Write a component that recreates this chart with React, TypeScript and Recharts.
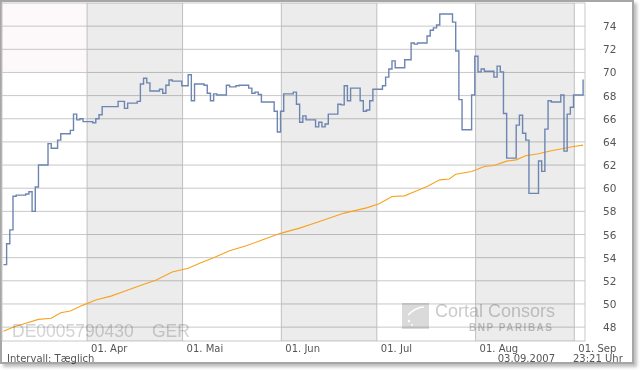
import React from "react";
import {
  LineChart,
  Line,
  XAxis,
  YAxis,
  CartesianGrid,
  ReferenceArea,
} from "recharts";

// day numbers count from 01.03.2007 = 0; closing prices are stamped at 18:00
const CLOSE = 0.75;

const priceDays = [
  4, 5, 6, 7, 8, 11, 12, 13, 14, 15, 18, 19, 21, 22, 25, 26, 27, 28, 29, 32,
  33, 34, 35, 40, 42, 43, 46, 47, 48, 49, 50, 53, 54, 55, 56, 57, 60, 62, 63,
  64, 67, 68, 69, 70, 71, 74, 75, 77, 78, 81, 82, 83, 84, 85, 89, 90, 91, 92,
  95, 96, 97, 98, 99, 102, 103, 104, 105, 106, 109, 110, 111, 112, 113, 116,
  117, 118, 119, 120, 123, 124, 125, 126, 127, 130, 132, 133, 134, 137, 138,
  139, 140, 141, 145, 146, 147, 148, 151, 152, 153, 154, 155, 158, 159, 160,
  161, 162, 165, 166, 167, 168, 169, 172, 173, 174, 175, 176, 179, 180, 181,
  182, 183, 186,
];

const prices = [
  53.4, 55.2, 56.4, 59.3, 59.4, 59.5, 59.7, 58.0, 60.1, 62.0, 63.85, 63.45,
  64.15, 64.7, 65.0, 66.4, 65.9, 66.0, 65.75, 65.65, 66.0, 66.35, 67.05, 67.5,
  66.9, 67.35, 67.5, 69.0, 69.5, 69.1, 68.4, 68.55, 68.2, 68.9, 69.35, 69.25,
  68.85, 69.8, 67.55, 69.0, 68.9, 68.2, 67.55, 68.15, 68.05, 68.9, 68.75,
  68.85, 68.9, 68.65, 68.2, 68.3, 68.1, 67.45, 66.65, 64.85, 66.65, 68.15,
  68.3, 67.25, 65.7, 66.25, 65.9, 65.3, 65.7, 65.3, 65.55, 66.4, 67.25, 67.2,
  68.85, 67.55, 68.65, 67.55, 66.65, 66.75, 67.55, 68.55, 68.85, 69.6, 70.3,
  71.0, 70.4, 71.1, 72.55, 72.45, 72.55, 73.15, 73.65, 73.85, 74.1, 75.05,
  74.35, 71.85, 67.65, 65.05, 68.05, 71.4, 70.05, 70.3, 70.1, 69.6, 70.55,
  70.05, 66.45, 62.6, 65.45, 66.3, 64.75, 64.15, 59.55, 62.35, 61.45, 65.1,
  67.55, 67.45, 68.05, 63.2, 66.4, 67.0, 68.05, 69.4,
];

const avgDays = [
  4, 7, 11, 15, 19, 22, 25, 29, 33, 38, 42, 47, 52, 57, 62, 66, 70, 75, 80, 85,
  91, 97, 103, 111, 118, 122, 126, 130, 133, 137, 141, 144, 146, 151, 155, 158,
  162, 165, 168, 172, 176, 179, 183, 186,
];

const avgValues = [
  47.65, 47.98, 48.33, 48.67, 48.76, 49.24, 49.39, 49.9, 50.34, 50.7, 51.1,
  51.6, 52.07, 52.76, 53.08, 53.57, 54.0, 54.6, 55.0, 55.5, 56.1, 56.55, 57.1,
  57.85, 58.3, 58.65, 59.28, 59.34, 59.7, 60.14, 60.72, 60.8, 61.2, 61.44,
  61.87, 61.96, 62.34, 62.45, 62.8, 62.97, 63.23, 63.38, 63.6, 63.72,
];

const monthTicks = [31, 61, 92, 122, 153, 184];
const monthLabels = ["01. Apr", "01. Mai", "01. Jun", "01. Jul", "01. Aug", "01. Sep"];
const priceTicks = [48, 50, 52, 54, 56, 58, 60, 62, 64, 66, 68, 70, 72, 74, 76];

const rows = new Map<number, any>();
priceDays.forEach((d, i) => {
  const r = rows.get(d) ?? { t: d + CLOSE };
  r.price = prices[i];
  rows.set(d, r);
});
avgDays.forEach((d, i) => {
  const r = rows.get(d) ?? { t: d + CLOSE };
  r.avg = avgValues[i];
  rows.set(d, r);
});
const table = [...rows.values()].sort((a, b) => a.t - b.t);

const font = "DejaVu Sans, Verdana, sans-serif";

const MonthTick = (props: any) => {
  const { x, y, payload } = props;
  const i = monthTicks.indexOf(payload.value);
  return (
    <text x={x + 4} y={y + 11} textAnchor="start" fontFamily={font} fontSize={10} fill="#555">
      {monthLabels[i]}
    </text>
  );
};

const PriceTick = (props: any) => {
  const { x, y, payload } = props;
  if (payload.value === 76) return <g />;
  return (
    <text x={x + 18} y={y + 4} textAnchor="start" fontFamily={font} fontSize={10.5} fill="#555">
      {payload.value}
    </text>
  );
};

export default function App() {
  return (
    <div style={{ position: "absolute", left: 0, top: 0, width: 640, height: 370, background: "#fff" }}>
      <div
        style={{
          position: "absolute",
          left: 0,
          top: 0,
          width: 634,
          height: 364,
          boxSizing: "border-box",
          border: "2px solid #a6a6a6",
          boxShadow: "3px 3px 3px rgba(0,0,0,0.25)",
          background: "#fff",
        }}
      />
      <div style={{ position: "absolute", left: 0, top: 0 }}>
        <LineChart
          width={640}
          height={370}
          data={table}
          margin={{ top: 3, right: 5, left: 2, bottom: 9 }}
        >
          <ReferenceArea x1={4.3} x2={31} y1={70.05} y2={76} fill="#e0a0b0" fillOpacity={0.06} stroke="none" />
          <ReferenceArea x1={31} x2={61} fill="#000" fillOpacity={0.075} stroke="none" />
          <ReferenceArea x1={92} x2={122} fill="#000" fillOpacity={0.075} stroke="none" />
          <ReferenceArea x1={153} x2={184} fill="#000" fillOpacity={0.075} stroke="none" />
          <CartesianGrid stroke="#c8c8c8" />
          <XAxis
            dataKey="t"
            type="number"
            domain={[4.3, 187.35]}
            ticks={monthTicks}
            allowDataOverflow
            axisLine={false}
            tickLine={false}
            tickSize={0}
            tickMargin={0}
            height={20}
            tick={<MonthTick />}
            interval={0}
          />
          <YAxis
            orientation="right"
            domain={[46.8, 76]}
            ticks={priceTicks}
            allowDataOverflow
            axisLine={false}
            tickLine={false}
            tickSize={0}
            tickMargin={0}
            width={50}
            tick={<PriceTick />}
            interval={0}
          />
          <Line
            type="linear"
            dataKey="avg"
            stroke="#f8a21c"
            strokeWidth={1.1}
            dot={false}
            activeDot={false}
            connectNulls
            isAnimationActive={false}
          />
          <Line
            type="stepAfter"
            dataKey="price"
            stroke="#6e85b1"
            strokeWidth={1.4}
            dot={false}
            activeDot={false}
            connectNulls
            isAnimationActive={false}
          />
        </LineChart>
      </div>
      <svg
        width={640}
        height={370}
        style={{ position: "absolute", left: 0, top: 0, pointerEvents: "none", mixBlendMode: "multiply" }}
      >
        <g fontFamily="Liberation Sans, Arial, sans-serif" fill="#d3d3d3">
          <text x={12} y={337} fontSize={17.5}>DE0005790430</text>
          <text x={152} y={337} fontSize={17.5}>GER</text>
          <rect x={402} y={303} width={27} height={26} fill="#dadada" />
          <path d="M408 315 q8 -8 16 -8" stroke="#fff" strokeWidth={1.5} fill="none" />
          <circle cx={409} cy={321} r={1.2} fill="#fff" />
          <circle cx={412} cy={325} r={1} fill="#fff" />
          <text x={435} y={317} fontSize={18} fill="#cbcbcb">Cortal Consors</text>
          <text x={469} y={331} fontSize={10} fontWeight="bold" textLength={83} fill="#c8c8c8">
            BNP PARIBAS
          </text>
        </g>
        <g fontFamily={font} fontSize={10} fill="#555">
          <text x={7} y={361.5}>Intervall: Tæglich</text>
          <text x={555} y={361.5} textAnchor="end">03.09.2007</text>
          <text x={573} y={361.5}>23:21 Uhr</text>
        </g>
      </svg>
    </div>
  );
}
